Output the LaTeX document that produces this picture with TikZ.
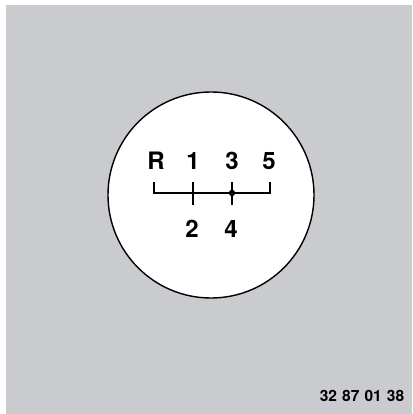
\documentclass[tikz,border=0pt]{standalone}
\usepackage{fontspec}
\setmainfont{TeX Gyre Heros}
\definecolor{bggray}{HTML}{C9CBCF}
\begin{document}
\begin{tikzpicture}[x=1pt,y=-1pt,
  gear/.style={font=\fontsize{24}{24}\selectfont\bfseries, inner sep=0pt},
  code/.style={font=\fontsize{15.5}{16}\selectfont\bfseries, inner sep=0pt},
  gateline/.style={line width=1.4pt, black}]
\useasboundingbox (0,0) rectangle (412,414);
\fill[white] (0,0) rectangle (412,414);
\fill[bggray] (6,5) rectangle (412,414);
\node[circle, draw=black, line width=1.4pt, fill=white, minimum size=206pt, inner sep=0pt] (knob) at (211,195) {};
\node[gear] (R) at (156,161) {R};
\node[gear] (g1) at (193,161) {1};
\node[gear] (g3) at (232,161) {3};
\node[gear] (g5) at (269,161) {5};
\node[gear] (g2) at (192,229) {2};
\node[gear] (g4) at (231,229) {4};
\coordinate (rt) at (154,182);
\coordinate (rb) at (154,193);
\coordinate (ft) at (270,182);
\coordinate (fb) at (270,193);
\coordinate (at) at (193,182);
\coordinate (ab) at (193,205);
\coordinate (bt) at (232,182);
\coordinate (bb) at (232,205);
\coordinate (dot) at (232,193);
\draw[gateline] (rt) -- (rb) -- (fb) -- (ft);
\draw[gateline] (at) -- (ab);
\draw[gateline] (bt) -- (bb);
\fill (dot) circle (3.2pt);
\node[code] (id) at (362,396) {32\,\,87\,\,01\,\,38};
\end{tikzpicture}
\end{document}
